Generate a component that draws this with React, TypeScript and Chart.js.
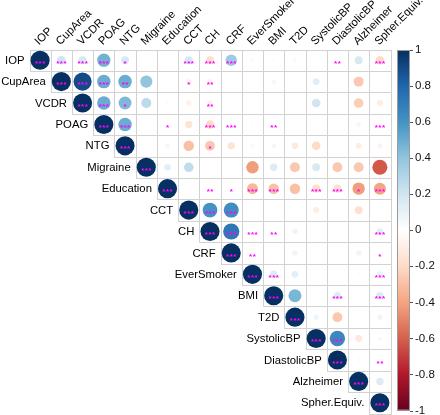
import React, { useEffect, useRef } from "react";
import { Chart, registerables } from "chart.js";
Chart.register(...registerables);

const variables = ["IOP","CupArea","VCDR","POAG","NTG","Migraine","Education","CCT","CH","CRF","EverSmoker","BMI","T2D","SystolicBP","DiastolicBP","Alzheimer","Spher.Equiv."];

// each row: correlations from the diagonal to the last column
const corrIOP = [1, 0.2, 0.18, 0.48, 0.17, 0, 0.02, 0.18, -0.18, 0.36, -0.03, -0.02, 0.04, 0.01, 0.01, 0.17, -0.2];
const corrCupArea = [1, 0.9, 0.5, 0.5, 0.4, 0, -0.08, -0.08, 0, 0.01, -0.06, 0, 0.13, 0, -0.27, 0];
const corrVCDR = [1, 0.5, 0.45, 0.27, 0.03, -0.08, -0.08, 0, -0.02, -0.01, 0.01, 0.2, 0, -0.25, -0.1];
const corrPOAG = [1, 0.5, 0, 0.01, -0.15, -0.2, 0, -0.02, 0, 0, 0.01, 0, -0.06, 0];
const corrNTG = [1, 0, -0.06, -0.3, -0.27, -0.15, -0.05, -0.06, -0.12, -0.2, 0, -0.1, -0.07];
const corrMigraine = [1, 0.12, 0.25, 0, 0, -0.42, 0.15, -0.27, 0.17, -0.27, -0.27, -0.62];
const corrEducation = [1, 0, 0.01, 0.01, -0.33, -0.3, -0.3, -0.18, -0.18, -0.42, -0.4];
const corrCCT = [1, 0.6, 0.62, 0, 0, 0, -0.1, 0, -0.17, 0];
const corrCH = [1, 0.72, 0.01, 0.01, 0.08, 0.02, 0, 0.02, 0.12];
const corrCRF = [1, 0.01, 0.02, 0.08, -0.01, 0.01, 0.08, 0.01];
const corrEverSmoker = [1, 0.15, 0.12, 0, 0.01, -0.03, 0.1];
const corrBMI = [1, 0.46, 0.01, 0.15, 0.01, 0.15];
const corrT2D = [1, 0.08, -0.27, 0, 0.08];
const corrSystolicBP = [1, 0.65, -0.13, 0.04];
const corrDiastolicBP = [1, -0.03, 0.01];
const corrAlzheimer = [1, 0.15];
const corrSpherEquiv = [1];

// significance stars, same layout
const sigIOP = ["***","***","***","***","*","","","***","***","***","","","","","**","","***"];
const sigCupArea = ["***","***","***","**","","","*","**","","","","","","","",""];
const sigVCDR = ["***","***","*","","","","**","","","","","","","",""];
const sigPOAG = ["***","***","","*","","***","***","","**","","","","","***"];
const sigNTG = ["***","","","","*","","","","","","","",""];
const sigMigraine = ["***","","","","","","","","","","",""];
const sigEducation = ["***","","**","*","***","***","","***","***","*","***"];
const sigCCT = ["***","***","***","","","","","","",""];
const sigCH = ["***","***","***","**","","","","","***"];
const sigCRF = ["***","**","","","","","","*"];
const sigEverSmoker = ["***","***","","","","","***"];
const sigBMI = ["***","","","***","","***"];
const sigT2D = ["***","","","",""];
const sigSystolicBP = ["***","***","",""];
const sigDiastolicBP = ["***","","**"];
const sigAlzheimer = ["***",""];
const sigSpherEquiv = ["***"];

const colorbarTicks = [1, 0.8, 0.6, 0.4, 0.2, 0, -0.2, -0.4, -0.6, -0.8, -1];

const corrRows = [corrIOP, corrCupArea, corrVCDR, corrPOAG, corrNTG, corrMigraine, corrEducation, corrCCT, corrCH, corrCRF, corrEverSmoker, corrBMI, corrT2D, corrSystolicBP, corrDiastolicBP, corrAlzheimer, corrSpherEquiv];
const sigRows = [sigIOP, sigCupArea, sigVCDR, sigPOAG, sigNTG, sigMigraine, sigEducation, sigCCT, sigCH, sigCRF, sigEverSmoker, sigBMI, sigT2D, sigSystolicBP, sigDiastolicBP, sigAlzheimer, sigSpherEquiv];

const RDBU = ["#67001F","#B2182B","#D6604D","#F4A582","#FDDBC7","#FFFFFF","#D1E5F0","#92C5DE","#4393C3","#2166AC","#053061"];
function hexRgb(h: string) {
  return [parseInt(h.slice(1, 3), 16), parseInt(h.slice(3, 5), 16), parseInt(h.slice(5, 7), 16)];
}
function corrColor(v: number) {
  const t = Math.max(0, Math.min(10, ((v + 1) / 2) * 10));
  const i = Math.min(9, Math.floor(t));
  const f = t - i;
  const a = hexRgb(RDBU[i]);
  const b = hexRgb(RDBU[i + 1]);
  const c = a.map((x, k) => Math.round(x + (b[k] - x) * f));
  return `rgb(${c[0]},${c[1]},${c[2]})`;
}

const FONT = "'Liberation Sans', Arial, sans-serif";
const N = variables.length;

const corrPlugin = {
  id: "corrDecor",
  beforeDatasetsDraw(chart: any) {
    const { ctx } = chart;
    const xs = chart.scales.x;
    const ys = chart.scales.y;
    ctx.save();
    ctx.strokeStyle = "#d2d2d2";
    ctx.lineWidth = 1;
    for (let i = 0; i < N; i++) {
      for (let j = i; j < N; j++) {
        const x0 = Math.round(xs.getPixelForValue(j)) + 0.5;
        const x1 = Math.round(xs.getPixelForValue(j + 1)) + 0.5;
        const y0 = Math.round(ys.getPixelForValue(i)) + 0.5;
        const y1 = Math.round(ys.getPixelForValue(i + 1)) + 0.5;
        ctx.strokeRect(x0, y0, x1 - x0, y1 - y0);
      }
    }
    ctx.restore();
  },
  afterDatasetsDraw(chart: any) {
    const { ctx } = chart;
    const xs = chart.scales.x;
    const ys = chart.scales.y;
    ctx.save();
    // significance stars
    ctx.fillStyle = "#ff00ff";
    ctx.font = `bold 8px ${FONT}`;
    ctx.textAlign = "center";
    ctx.textBaseline = "alphabetic";
    sigRows.forEach((row, i) => {
      row.forEach((s, k) => {
        if (!s) return;
        const cx = xs.getPixelForValue(i + k + 0.5);
        const cy = ys.getPixelForValue(i + 0.5);
        const n = s.length;
        for (let m = 0; m < n; m++) {
          const dx = (m - (n - 1) / 2) * 3.6;
          ctx.fillText("*", cx + dx, cy + 5.6);
        }
      });
    });
    // row labels
    ctx.fillStyle = "#000";
    ctx.font = `11.3px ${FONT}`;
    ctx.textAlign = "right";
    ctx.textBaseline = "middle";
    variables.forEach((name, i) => {
      const x = xs.getPixelForValue(i) - 5;
      const y = ys.getPixelForValue(i + 0.5);
      ctx.fillText(name, x, y + 0.5);
    });
    // column labels
    ctx.textAlign = "left";
    ctx.textBaseline = "alphabetic";
    const top = ys.getPixelForValue(0);
    variables.forEach((name, j) => {
      const x = xs.getPixelForValue(j + 0.5);
      ctx.save();
      ctx.translate(x - 1, top - 4);
      ctx.rotate(-Math.PI / 4);
      ctx.fillText(name, 0, 0);
      ctx.restore();
    });
    // colorbar
    const bx = 397, bw = 13, btop = 50, bbot = 410.5;
    const grad = ctx.createLinearGradient(0, btop, 0, bbot);
    RDBU.slice().reverse().forEach((c, k) => grad.addColorStop(k / 10, c));
    ctx.fillStyle = grad;
    ctx.fillRect(bx, btop, bw, bbot - btop);
    ctx.strokeStyle = "#9a9a9a";
    ctx.lineWidth = 1;
    ctx.strokeRect(bx + 0.5, btop + 0.5, bw - 1, bbot - btop - 1);
    ctx.fillStyle = "#111";
    ctx.font = `11.5px ${FONT}`;
    ctx.textAlign = "left";
    ctx.textBaseline = "middle";
    ctx.strokeStyle = "#555";
    colorbarTicks.forEach((v) => {
      const y = btop + ((1 - v) / 2) * (bbot - btop);
      ctx.beginPath();
      ctx.moveTo(bx + bw, Math.round(y) + 0.5);
      ctx.lineTo(bx + bw + 3, Math.round(y) + 0.5);
      ctx.stroke();
      ctx.fillText(String(v), bx + bw + 5, y);
    });
    ctx.restore();
  },
};

export default function App() {
  const ref = useRef<HTMLCanvasElement>(null);
  useEffect(() => {
    if (!ref.current) return;
    const points: any[] = [];
    corrRows.forEach((row, i) => {
      row.forEach((v, k) => {
        points.push({ x: i + k + 0.5, y: i + 0.5, v });
      });
    });
    const chart = new Chart(ref.current, {
      type: "scatter",
      data: {
        datasets: [
          {
            data: points,
            pointRadius: (c: any) => {
              const raw = c.raw;
              if (!raw) return 0;
              const xs = c.chart.scales.x;
              const cw = Math.abs(xs.getPixelForValue(1) - xs.getPixelForValue(0));
              return Math.sqrt(Math.abs(raw.v)) * 0.45 * cw;
            },
            pointBackgroundColor: (c: any) => (c.raw ? corrColor(c.raw.v) : "#fff"),
            pointBorderWidth: 0,
            pointBorderColor: "rgba(0,0,0,0)",
            pointHoverRadius: 0,
          } as any,
        ],
      },
      options: {
        animation: false,
        responsive: false,
        events: [],
        layout: { padding: { left: 29.5, top: 49.5, right: 49.5, bottom: 1.5 } },
        scales: {
          x: { type: "linear", min: 0, max: N, display: false },
          y: { type: "linear", min: 0, max: N, reverse: true, display: false },
        },
        plugins: { legend: { display: false }, tooltip: { enabled: false } },
      } as any,
      plugins: [corrPlugin],
    });
    return () => chart.destroy();
  }, []);
  return (
    <div style={{ position: "absolute", left: 0, top: 0, width: 440, height: 415, background: "#fff" }}>
      <canvas ref={ref} width={440} height={415} style={{ width: 440, height: 415 }} />
    </div>
  );
}
